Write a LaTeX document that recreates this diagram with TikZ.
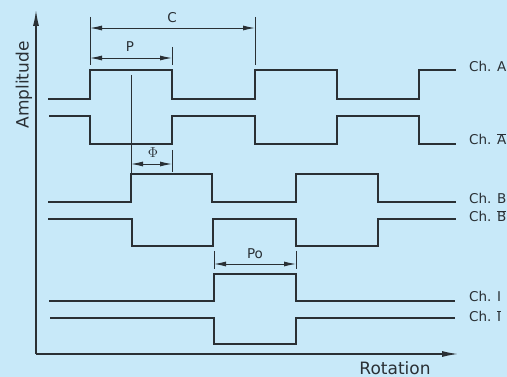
\documentclass[tikz,border=0pt]{standalone}
\usepackage{fontspec}
\setmainfont{DejaVu Sans}
\usetikzlibrary{positioning,calc,arrows.meta}
\definecolor{bg}{HTML}{C8E9F9}
\definecolor{ink}{HTML}{2A3035}

\begin{document}
\begin{tikzpicture}[x=1pt,y=-1pt,
  sig/.style={draw=ink,line width=1.2pt},
  axis/.style={draw=ink,line width=1.3pt,-{Latex[length=16pt,width=6pt]}},
  dimline/.style={draw=ink,line width=0.9pt,{Latex[length=12pt,width=5pt]}-{Latex[length=12pt,width=5pt]}},
  tickline/.style={draw=ink,line width=0.9pt},
  lbl/.style={font=\fontsize{13.5}{16}\selectfont,text=ink,inner sep=0pt},
  biglbl/.style={font=\fontsize{17}{19}\selectfont,text=ink,inner sep=0pt}]
\fill[bg] (0,0) rectangle (507,377);
\useasboundingbox (0,0) rectangle (507,377);
% axes
\coordinate (origin) at (36,354);
\coordinate (ytop) at (36,10);
\coordinate (xend) at (458,354);
\draw[axis] (origin) -- (ytop);
\draw[axis] (origin) -- (xend);
\node[biglbl,rotate=90] (amp) at (24,85) {Amplitude};
\node[biglbl] (rot) at (395,368) {Rotation};
% channel A and A-bar
\draw[sig] (48,99) -- (90,99) -- (90,70) -- (172,70) -- (172,99) -- (255,99) -- (255,70)
  -- (337,70) -- (337,99) -- (419,99) -- (419,70) -- (456,70);
\draw[sig] (49,116) -- (90,116) -- (90,144) -- (172,144) -- (172,116) -- (255,116) -- (255,144)
  -- (337,144) -- (337,116) -- (419,116) -- (419,144) -- (456,144);
% channel B and B-bar
\draw[sig] (48,202) -- (131,202) -- (131,174) -- (212,174) -- (212,202) -- (296,202) -- (296,174)
  -- (378,174) -- (378,202) -- (456,202);
\draw[sig] (48,219) -- (132,219) -- (132,246) -- (213,246) -- (213,219) -- (296,219) -- (296,246)
  -- (378,246) -- (378,219) -- (456,219);
% index channel I and I-bar
\draw[sig] (49,301) -- (214,301) -- (214,274) -- (296,274) -- (296,301) -- (455,301);
\draw[sig] (50,318) -- (214,318) -- (214,344) -- (296,344) -- (296,318) -- (455,318);
% channel labels
\node[lbl,anchor=base west] (chA) at (469,72) {Ch. A};
\node[lbl,anchor=base west] (chAbar) at (469,145) {Ch. $\overline{\mbox{A}}$};
\node[lbl,anchor=base west] (chB) at (469,204) {Ch. B};
\node[lbl,anchor=base west] (chBbar) at (469,222) {Ch. $\overline{\mbox{B}}$};
\node[lbl,anchor=base west] (chI) at (469,302) {Ch. I};
\node[lbl,anchor=base west] (chIbar) at (469,322) {Ch. $\overline{\mbox{I}}$};
% dimension C
\coordinate (c1) at (90,17);
\coordinate (c2) at (255,17);
\draw[tickline] (c1) -- ++(0,48);
\draw[tickline] (c2) -- ++(0,48);
\draw[dimline] ($(c1)+(0,11)$) -- ($(c2)+(0,11)$);
\node[lbl] (labC) at (172,18) {C};
% dimension P
\coordinate (p2) at (172,47);
\draw[tickline] (p2) -- ++(0,18);
\draw[dimline] (90,58) -- (172,58);
\node[lbl] (labP) at (130,47) {P};
% phase offset
\draw[tickline] (131,75) -- (131,174);
\coordinate (f2) at (172,150);
\draw[tickline] (f2) -- ++(0,22);
\draw[dimline] (131,164) -- (172,164);
\node[lbl] (labF) at (153,153) {$\Phi$};
% index width Po
\coordinate (o1) at (214,251);
\coordinate (o2) at (296,251);
\draw[tickline] (o1) -- ++(0,18);
\draw[tickline] (o2) -- ++(0,18);
\draw[dimline] ($(o1)+(0,13)$) -- ($(o2)+(0,13)$);
\node[lbl] (labPo) at (255,254) {Po};
\end{tikzpicture}
\end{document}
